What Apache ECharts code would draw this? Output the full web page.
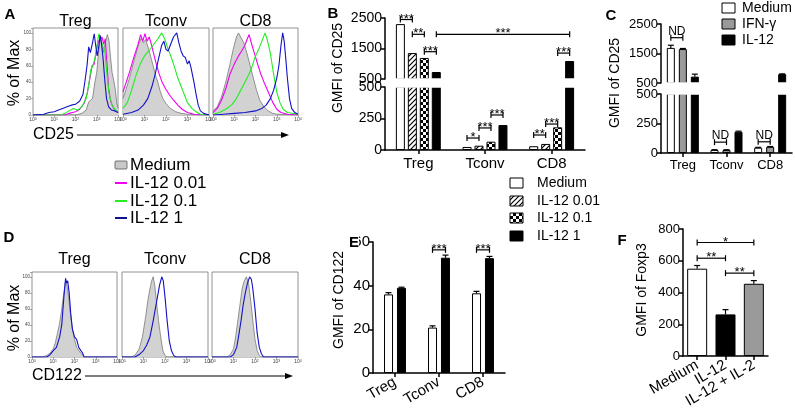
<!DOCTYPE html>
<html>
<head>
<meta charset="utf-8">
<script src="https://cdn.jsdelivr.net/npm/echarts@6/dist/echarts.min.js"></script>
<style>
  html, body { margin: 0; padding: 0; background: #fff; }
  #main { width: 795px; height: 415px; }
</style>
</head>
<body>
<div id="main"></div>
<script>
// ---- data ----
const cellTypes = ['Treg', 'Tconv', 'CD8'];
const histLegend = ['Medium', 'IL-12 0.01', 'IL-12 0.1', 'IL-12 1'];
const decades = [0, 1, 2, 3, 4];

// panel A: CD25 histograms, [log10 intensity, % of max]
const aTregMedium = [[0,0],[2.0,0],[2.3,2],[2.5,6],[2.62,16],[2.7,14],[2.8,20],[2.9,38],[3.0,52],[3.08,75],[3.15,96],[3.22,86],[3.3,76],[3.4,88],[3.5,98],[3.58,90],[3.65,70],[3.72,52],[3.8,42],[3.88,30],[3.94,15],[4.0,8]];
const aTregLow = [[0,0],[1.5,0],[1.7,2],[2.0,4],[2.2,7],[2.4,14],[2.55,26],[2.68,45],[2.78,60],[2.88,62],[2.98,78],[3.08,90],[3.17,88],[3.25,95],[3.33,86],[3.4,93],[3.48,62],[3.56,32],[3.66,16],[3.8,8],[4.0,3]];
const aTregMid = [[0,0],[1.3,0],[1.5,2],[1.7,5],[1.9,8],[2.1,6],[2.3,10],[2.5,20],[2.62,36],[2.72,55],[2.82,60],[2.92,70],[3.02,86],[3.1,99],[3.18,94],[3.28,84],[3.38,78],[3.48,50],[3.58,26],[3.72,12],[3.88,6],[4.0,4]];
const aTregHigh = [[0,0],[0.5,1],[0.75,3],[1.0,4],[1.2,6],[1.4,8],[1.6,10],[1.8,12],[2.0,13],[2.2,17],[2.35,25],[2.45,42],[2.55,62],[2.62,83],[2.7,76],[2.8,88],[2.88,99],[2.95,85],[3.02,72],[3.1,84],[3.16,97],[3.22,88],[3.3,68],[3.38,42],[3.46,20],[3.56,10],[3.7,6],[3.85,5],[4.0,3]];
const aTconvMedium = [[0,20],[0.1,28],[0.3,45],[0.5,65],[0.7,84],[0.85,94],[0.95,88],[1.05,92],[1.15,84],[1.28,72],[1.4,60],[1.52,48],[1.62,40],[1.72,30],[1.85,20],[2.0,14],[2.2,8],[2.45,4],[2.7,2],[3.0,1],[3.5,0],[4,0]];
const aTconvLow = [[0,28],[0.1,36],[0.3,52],[0.5,70],[0.7,86],[0.82,98],[0.92,90],[1.02,99],[1.12,90],[1.22,95],[1.32,86],[1.45,72],[1.55,62],[1.68,50],[1.82,40],[1.98,32],[2.15,25],[2.35,18],[2.55,12],[2.75,7],[3.0,3],[3.3,1],[4,0]];
const aTconvMid = [[0,8],[0.2,15],[0.4,30],[0.6,48],[0.8,62],[1.0,72],[1.2,78],[1.4,85],[1.6,92],[1.8,100],[1.95,92],[2.1,80],[2.25,70],[2.4,58],[2.55,45],[2.7,35],[2.85,25],[3.0,15],[3.2,8],[3.4,4],[3.6,1],[4,0]];
const aTconvHigh = [[0,1],[0.4,3],[0.7,6],[0.95,12],[1.15,20],[1.35,35],[1.5,50],[1.65,68],[1.8,85],[1.9,90],[2.0,80],[2.1,78],[2.2,85],[2.35,95],[2.5,100],[2.6,88],[2.7,78],[2.8,72],[2.9,70],[3.0,62],[3.08,66],[3.16,58],[3.3,40],[3.4,25],[3.5,12],[3.6,5],[3.75,2],[4,0]];
const aCd8Medium = [[0,5],[0.2,10],[0.4,22],[0.6,40],[0.8,62],[0.95,80],[1.1,95],[1.2,100],[1.3,95],[1.45,88],[1.6,75],[1.75,60],[1.9,45],[2.05,30],[2.2,18],[2.4,10],[2.6,5],[2.8,2],[3.0,1],[4,0]];
const aCd8Low = [[0,3],[0.2,8],[0.4,18],[0.6,32],[0.8,50],[1.0,62],[1.2,72],[1.35,78],[1.5,85],[1.6,92],[1.7,98],[1.8,88],[1.95,75],[2.1,62],[2.25,50],[2.4,40],[2.6,28],[2.8,16],[3.0,7],[3.2,3],[3.5,1],[4,0]];
const aCd8Mid = [[0,1],[0.3,3],[0.6,7],[0.9,13],[1.1,20],[1.3,30],[1.5,40],[1.7,50],[1.85,60],[2.0,72],[2.15,80],[2.3,90],[2.45,100],[2.55,92],[2.7,75],[2.85,50],[3.0,28],[3.15,15],[3.3,7],[3.5,3],[4,1]];
const aCd8High = [[0,0],[0.5,1],[1.0,2],[1.5,3],[2.0,5],[2.3,8],[2.5,12],[2.7,20],[2.85,30],[3.0,45],[3.1,60],[3.2,85],[3.28,100],[3.35,90],[3.42,70],[3.5,45],[3.6,20],[3.7,8],[3.85,3],[4,1]];

// panel D: CD122 histograms
const dTregMedium = [[0,0],[0.5,0],[0.7,2],[0.85,5],[1.0,10],[1.1,18],[1.2,30],[1.3,42],[1.4,60],[1.5,80],[1.58,95],[1.65,88],[1.72,75],[1.8,55],[1.9,35],[2.0,22],[2.1,12],[2.2,8],[2.35,3],[2.5,0],[4,0]];
const dTregHigh = [[0,0],[0.7,0],[0.85,3],[1.0,8],[1.15,12],[1.3,25],[1.4,40],[1.5,75],[1.58,98],[1.63,92],[1.68,95],[1.75,80],[1.82,55],[1.9,35],[2.0,25],[2.1,22],[2.2,12],[2.3,8],[2.38,5],[2.45,0],[4,0]];
const dTconvMedium = [[0,0],[0.4,0],[0.6,2],[0.8,10],[0.95,25],[1.1,50],[1.2,70],[1.3,85],[1.38,95],[1.45,100],[1.52,90],[1.6,70],[1.7,45],[1.8,25],[1.9,8],[2.0,2],[2.1,0],[4,0]];
const dTconvHigh = [[0,0],[0.6,0],[0.8,3],[1.0,8],[1.15,15],[1.3,25],[1.45,45],[1.55,60],[1.65,75],[1.75,90],[1.85,100],[1.92,95],[2.0,75],[2.1,45],[2.2,20],[2.3,8],[2.4,2],[2.5,0],[4,0]];
const dCd8Medium = [[0,0],[0.7,0],[0.85,3],[1.0,10],[1.1,25],[1.2,45],[1.3,65],[1.4,85],[1.5,95],[1.6,100],[1.7,92],[1.8,70],[1.9,45],[2.0,22],[2.1,8],[2.2,2],[2.3,0],[4,0]];
const dCd8High = [[0,0],[0.85,0],[1.0,3],[1.15,12],[1.25,28],[1.35,45],[1.45,65],[1.55,80],[1.65,92],[1.75,100],[1.83,97],[1.9,85],[2.0,60],[2.1,30],[2.2,12],[2.3,4],[2.4,0],[4,0]];

// panel B: GMFI of CD25 by IL-12 dose
const bMedium = [2300, 24, 30];
const bIl12Low = [1350, 34, 48];
const bIl12Mid = [1190, 66, 180];
const bIl12High = [730, 198, 1090];
// [category, bar, category, bar, level, label]
const bBrackets = [
  [0, 0, 0, 1, 2450, '***'], [0, 1, 0, 2, 1965, '**'], [0, 2, 0, 3, 1395, '***'],
  [0, 3, 2, 3, 1965, '***'], [2, 2, 2, 3, 1350, '***'],
  [1, 0, 1, 1, 95, '*'], [1, 1, 1, 2, 175, '***'], [1, 2, 1, 3, 278, '***'],
  [2, 0, 2, 1, 119, '**'], [2, 1, 2, 2, 206, '***']
];

// panel C: GMFI of CD25, Medium / IFN-g / IL-12
const cLegend = ['Medium', 'IFN-\u03b3', 'IL-12'];
const cMedium = [1690, 25, 45];
const cMediumErr = [90, 3, 3];
const cIfng = [1650, 25, 52];
const cIfngErr = [20, 3, 3];
const cIl12 = [715, 180, 800];
const cIl12Err = [85, 5, 10];
const cBrackets = [[0, 0, 0, 1, 2036, 'ND'], [1, 0, 1, 1, 92, 'ND'], [2, 0, 2, 1, 95, 'ND']];

// panel E: GMFI of CD122
const eMedium = [36, 20.8, 36.5];
const eMediumErr = [0.8, 0.8, 0.9];
const eIl12 = [39, 52.8, 52.6];
const eIl12Err = [0.3, 1.2, 0.8];
const eBrackets = [[1, 0, 1, 1, 56.4, '***'], [2, 0, 2, 1, 56.4, '***']];

// panel F: GMFI of Foxp3
const fGroups = ['Medium', 'IL-12', 'IL-12 + IL-2'];
const fFoxp3 = [550, 262, 455];
const fFoxp3Err = [20, 30, 20];
const fBrackets = [[0, 0, 2, 0, 715, '*'], [0, 0, 1, 0, 616, '**'], [1, 0, 2, 0, 522, '**']];

// ---- helpers ----
const FONT = '"Liberation Sans", Arial, Helvetica, sans-serif';
const MAGENTA = '#f000f0', GREEN = '#22ee22', BLUE = '#1212c8';

function hatchFill() {
  const c = document.createElement('canvas');
  c.width = 5; c.height = 5;
  const g = c.getContext('2d');
  g.fillStyle = '#fff'; g.fillRect(0, 0, 5, 5);
  g.strokeStyle = '#000'; g.lineWidth = 1.2;
  g.beginPath();
  g.moveTo(0, 5); g.lineTo(5, 0);
  g.moveTo(-1, 1); g.lineTo(1, -1);
  g.moveTo(4, 6); g.lineTo(6, 4);
  g.stroke();
  return { image: c, repeat: 'repeat' };
}
function checkerFill() {
  const c = document.createElement('canvas');
  c.width = 6; c.height = 6;
  const g = c.getContext('2d');
  g.fillStyle = '#fff'; g.fillRect(0, 0, 6, 6);
  g.fillStyle = '#000';
  g.fillRect(0, 0, 3, 3); g.fillRect(3, 3, 3, 3);
  return { image: c, repeat: 'repeat' };
}
const HATCH = hatchFill(), CHECKER = checkerFill();

const grids = [], xAxes = [], yAxes = [], series = [], graphics = [];

function addGrid(g, xa, ya) {
  grids.push(g);
  const gi = grids.length - 1;
  xa.gridIndex = gi; ya.gridIndex = gi;
  xAxes.push(xa); yAxes.push(ya);
  return gi;
}

function histGrid(left, top, width, height, showY) {
  return addGrid(
    { left, top, width, height, show: true, borderColor: '#777', borderWidth: 0.8 },
    {
      type: 'value', min: 0, max: 4, interval: 1,
      axisLine: { show: false }, splitLine: { show: false },
      axisTick: { show: true, length: 2, lineStyle: { color: '#777', width: 0.6 } },
      axisLabel: {
        margin: 2, color: '#444',
        formatter: v => decades.includes(v) ? '{b|10}{s|' + v + '}' : '',
        rich: { b: { fontSize: 5, fontFamily: FONT, color: '#444' }, s: { fontSize: 3.5, verticalAlign: 'top', fontFamily: FONT, color: '#444' } }
      }
    },
    {
      type: 'value', min: 0, max: 106, interval: 20,
      axisLine: { show: false }, splitLine: { show: false },
      axisTick: { show: showY, length: 2, lineStyle: { color: '#777', width: 0.6 } },
      axisLabel: { show: showY, fontSize: 4.5, margin: 2, color: '#444', fontFamily: FONT,
        formatter: v => (v % 20 === 0 && v <= 100) ? String(v) : '' }
    }
  );
}

function histLine(gi, data, color) {
  series.push({
    type: 'line', xAxisIndex: gi, yAxisIndex: gi, data, showSymbol: false, silent: true,
    lineStyle: { color, width: 1.1 }
  });
}
function histFill(gi, data) {
  series.push({
    type: 'line', xAxisIndex: gi, yAxisIndex: gi, data, showSymbol: false, silent: true,
    lineStyle: { color: '#7a7a7a', width: 0.8 },
    areaStyle: { color: '#d2d2d2', opacity: 1 }
  });
}

function valAxis(min, max, interval, fs) {
  return {
    type: 'value', min, max, interval, splitLine: { show: false },
    axisLine: { show: true, lineStyle: { color: '#000', width: 1.5 } },
    axisTick: { show: true, length: 4, lineStyle: { color: '#000', width: 1.5 } },
    axisLabel: { fontSize: fs, color: '#000', margin: 3, fontFamily: FONT, formatter: v => String(v) }
  };
}
function catAxis(data, fs, opts) {
  opts = opts || {};
  if (opts.hidden) return { type: 'category', data, show: false };
  return {
    type: 'category', data,
    axisLine: { show: true, lineStyle: { color: '#000', width: 1.5 } },
    axisTick: { show: true, alignWithLabel: true, length: 4, lineStyle: { color: '#000', width: 1.5 } },
    axisLabel: { fontSize: fs, color: '#000', fontFamily: FONT, margin: opts.margin || 6, rotate: opts.rotate || 0, interval: 0 }
  };
}
function bars(gi, data, color, bw, gap) {
  series.push({
    type: 'bar', xAxisIndex: gi, yAxisIndex: gi, data, barWidth: bw, barGap: gap, silent: true,
    itemStyle: { color, borderColor: '#000', borderWidth: 1 }
  });
}
// vertical error whiskers (upper half), bar k of n in each category
function whiskers(gi, vals, errs, k, n, step) {
  series.push({
    type: 'custom', xAxisIndex: gi, yAxisIndex: gi, clip: true, silent: true, z: 5,
    data: vals.map((v, i) => [i, v, errs[i]]),
    encode: { x: 0, y: 1 },
    renderItem(params, api) {
      const c = api.value(0), v = api.value(1), e = api.value(2);
      const p0 = api.coord([c, v]), p1 = api.coord([c, v + e]);
      const x = p0[0] + (k - (n - 1) / 2) * step;
      const st = { stroke: '#000', lineWidth: 1.2 };
      return { type: 'group', children: [
        { type: 'line', shape: { x1: x, y1: p0[1], x2: x, y2: p1[1] }, style: st },
        { type: 'line', shape: { x1: x - 3, y1: p1[1], x2: x + 3, y2: p1[1] }, style: st }
      ] };
    }
  });
}
// significance brackets
function brackets(gi, list, n, step, fs, lift) {
  if (!list.length) return;
  series.push({
    type: 'custom', xAxisIndex: gi, yAxisIndex: gi, clip: false, silent: true, z: 6,
    data: list.map(b => [b[0], b[1], b[2], b[3], b[4]]),
    encode: { x: 0, y: 4 },
    renderItem(params, api) {
      const b = list[params.dataIndex];
      const pa = api.coord([b[0], b[4]]), pb = api.coord([b[2], b[4]]);
      const xa = pa[0] + (b[1] - (n - 1) / 2) * step;
      const xb = pb[0] + (b[3] - (n - 1) / 2) * step;
      const y = pa[1];
      const st = { stroke: '#000', lineWidth: 1.2 };
      return { type: 'group', children: [
        { type: 'line', shape: { x1: xa, y1: y, x2: xb, y2: y }, style: st },
        { type: 'line', shape: { x1: xa, y1: y - 3, x2: xa, y2: y + 3 }, style: st },
        { type: 'line', shape: { x1: xb, y1: y - 3, x2: xb, y2: y + 3 }, style: st },
        { type: 'text', x: (xa + xb) / 2, y: y + lift, style: { text: b[5], align: 'center', verticalAlign: 'bottom', font: fs + 'px ' + FONT, fill: '#000' } }
      ] };
    }
  });
}

function text(x, y, s, size, opts) {
  opts = opts || {};
  const el = {
    type: 'text', x, y, rotation: opts.rot || 0, silent: true, z: 10,
    style: { text: s, font: (opts.bold ? 'bold ' : '') + size + 'px ' + FONT, fill: '#000',
      align: opts.align || 'center', verticalAlign: opts.va || 'middle' }
  };
  if (opts.bg) { el.style.backgroundColor = opts.bg; el.style.padding = [0, 0]; }
  return el;
}
function arrow(x1, x2, y) {
  graphics.push({ type: 'line', shape: { x1, y1: y, x2: x2 - 5, y2: y }, style: { stroke: '#000', lineWidth: 1.2 }, silent: true });
  graphics.push({ type: 'polygon', shape: { points: [[x2, y], [x2 - 8, y - 3], [x2 - 8, y + 3]] }, style: { fill: '#000' }, silent: true });
}
// white band over an axis break, so the bars read as interrupted
function breakGap(x, y1, y2, w) {
  graphics.push({ type: 'rect', shape: { x, y: y1, width: w, height: y2 - y1 }, style: { fill: '#fff' }, silent: true, z: 8 });
}

// ---- panel A ----
const aLefts = [33, 123, 213], aWidths = [85, 86, 85];
const aSets = [
  [aTregMedium, aTregLow, aTregMid, aTregHigh],
  [aTconvMedium, aTconvLow, aTconvMid, aTconvHigh],
  [aCd8Medium, aCd8Low, aCd8Mid, aCd8High]
];
aSets.forEach((set, i) => {
  const gi = histGrid(aLefts[i], 28, aWidths[i], 87, i === 0);
  histFill(gi, set[0]);
  histLine(gi, set[1], MAGENTA);
  histLine(gi, set[2], GREEN);
  histLine(gi, set[3], BLUE);
  graphics.push(text(aLefts[i] + aWidths[i] / 2, 22, cellTypes[i], 16));
});
graphics.push(text(10, 15, 'A', 15, { bold: true }));
graphics.push(text(15, 73, '% of Max', 16, { rot: Math.PI / 2 }));
graphics.push(text(33, 135, 'CD25', 16, { align: 'left' }));
arrow(77, 289, 135);

// legend of A/D histograms
const histLegendY = [165, 183, 201, 218];
const histLegendColors = [null, MAGENTA, GREEN, '#101090'];
histLegend.forEach((name, i) => {
  if (i === 0) {
    graphics.push({ type: 'rect', shape: { x: 115, y: histLegendY[i] - 4, width: 12, height: 8, r: 1 }, style: { fill: '#c8c8c8', stroke: '#555', lineWidth: 0.8 }, silent: true });
  } else {
    graphics.push({ type: 'line', shape: { x1: 115, y1: histLegendY[i], x2: 127, y2: histLegendY[i] }, style: { stroke: histLegendColors[i], lineWidth: 2 }, silent: true });
  }
  graphics.push(text(130, histLegendY[i], name, 17, { align: 'left' }));
});

// ---- panel D ----
const dLefts = [32, 122, 212], dWidths = [85, 86, 86];
const dSets = [[dTregMedium, dTregHigh], [dTconvMedium, dTconvHigh], [dCd8Medium, dCd8High]];
dSets.forEach((set, i) => {
  const gi = histGrid(dLefts[i], 272, dWidths[i], 85, i === 0);
  histFill(gi, set[0]);
  histLine(gi, set[1], BLUE);
  graphics.push(text(dLefts[i] + dWidths[i] / 2, 260, cellTypes[i], 16));
});
graphics.push(text(9, 238, 'D', 15, { bold: true }));
graphics.push(text(15, 318, '% of Max', 16, { rot: Math.PI / 2 }));
graphics.push(text(32, 376, 'CD122', 16, { align: 'left' }));
arrow(85, 293, 376);

// ---- panel B (broken axis: two grids) ----
const bFills = ['#fff', HATCH, CHECKER, '#000'];
const bSeriesData = [bMedium, bIl12Low, bIl12Mid, bIl12High];
const bUp = addGrid({ left: 385, top: 18, width: 200, height: 61 }, catAxis(cellTypes, 15, { hidden: true }), valAxis(500, 2500, 1000, 14));
const bLo = addGrid({ left: 385, top: 87, width: 200, height: 63 }, catAxis(cellTypes, 15, { margin: 6 }), valAxis(0, 500, 250, 14));
[bUp, bLo].forEach(gi => bSeriesData.forEach((d, k) => bars(gi, d, bFills[k], 9, '33%')));
brackets(bUp, bBrackets.filter(b => b[4] > 500), 4, 12, 13, 6);
brackets(bLo, bBrackets.filter(b => b[4] <= 500), 4, 12, 13, 6);
breakGap(386, 78.2, 87.8, 200);
graphics.push(text(333, 14, 'B', 15, { bold: true }));
graphics.push(text(338, 68, 'GMFI of CD25', 14, { rot: Math.PI / 2 }));
const bLegendY = [183, 201, 218, 236];
histLegend.forEach((name, i) => {
  graphics.push({ type: 'rect', shape: { x: 510, y: bLegendY[i] - 5, width: 13, height: 10 }, style: { fill: bFills[i], stroke: '#000', lineWidth: 1 }, silent: true });
  graphics.push(text(537, bLegendY[i], name, 14, { align: 'left' }));
});

// ---- panel C (broken axis) ----
const cFills = ['#fff', '#9a9a9a', '#000'];
const cData = [cMedium, cIfng, cIl12], cErr = [cMediumErr, cIfngErr, cIl12Err];
const cUp = addGrid({ left: 661, top: 24, width: 131, height: 59 }, catAxis(cellTypes, 13, { hidden: true }), valAxis(500, 2500, 1000, 13));
const cLo = addGrid({ left: 661, top: 94, width: 131, height: 59 }, catAxis(cellTypes, 13, { margin: 6 }), valAxis(0, 500, 250, 13));
[cUp, cLo].forEach(gi => {
  cData.forEach((d, k) => bars(gi, d, cFills[k], 8, '50%'));
  cData.forEach((d, k) => whiskers(gi, d, cErr[k], k, 3, 12));
});
brackets(cUp, cBrackets.filter(b => b[4] > 500), 3, 12, 12, 0);
brackets(cLo, cBrackets.filter(b => b[4] <= 500), 3, 12, 12, 0);
breakGap(662, 82.2, 94.8, 131);
graphics.push(text(611, 16, 'C', 15, { bold: true }));
graphics.push(text(615, 83, 'GMFI of CD25', 14, { rot: Math.PI / 2 }));
const cLegendY = [8, 24, 40];
cLegend.forEach((name, i) => {
  graphics.push({ type: 'rect', shape: { x: 722, y: cLegendY[i] - 5, width: 13, height: 10 }, style: { fill: cFills[i], stroke: '#000', lineWidth: 1 }, silent: true });
  graphics.push(text(742, cLegendY[i], name, 14, { align: 'left' }));
});

// ---- panel E ----
const eGi = addGrid({ left: 373, top: 242, width: 132, height: 131 }, catAxis(cellTypes, 15, { rotate: 30, margin: 8 }), valAxis(0, 60, 20, 15));
bars(eGi, eMedium, '#fff', 9, '44%');
bars(eGi, eIl12, '#000', 9, '44%');
whiskers(eGi, eMedium, eMediumErr, 0, 2, 13);
whiskers(eGi, eIl12, eIl12Err, 1, 2, 13);
brackets(eGi, eBrackets, 2, 13, 13, 6);
graphics.push(text(354, 243, 'E', 15, { bold: true, bg: '#fff' }));
graphics.push(text(339, 300, 'GMFI of CD122', 14, { rot: Math.PI / 2 }));

// ---- panel F ----
const fFills = ['#fff', '#000', '#9a9a9a'];
const fGi = addGrid({ left: 683, top: 229, width: 85, height: 127 }, catAxis(fGroups, 15, { rotate: 30, margin: 8 }), valAxis(0, 800, 200, 13));
series.push({
  type: 'bar', xAxisIndex: fGi, yAxisIndex: fGi, barWidth: 20, silent: true,
  data: fFoxp3.map((v, i) => ({ value: v, itemStyle: { color: fFills[i] } })),
  itemStyle: { borderColor: '#000', borderWidth: 1 }
});
whiskers(fGi, fFoxp3, fFoxp3Err, 0, 1, 0);
brackets(fGi, fBrackets, 1, 0, 13, 6);
graphics.push(text(622, 241, 'F', 15, { bold: true }));
graphics.push(text(642, 290, 'GMFI of Foxp3', 14, { rot: Math.PI / 2 }));

const chart = echarts.init(document.getElementById('main'));
chart.setOption({
  animation: false,
  backgroundColor: '#fff',
  textStyle: { fontFamily: FONT },
  grid: grids,
  xAxis: xAxes,
  yAxis: yAxes,
  series,
  graphic: { elements: graphics }
});
</script>
</body>
</html>
